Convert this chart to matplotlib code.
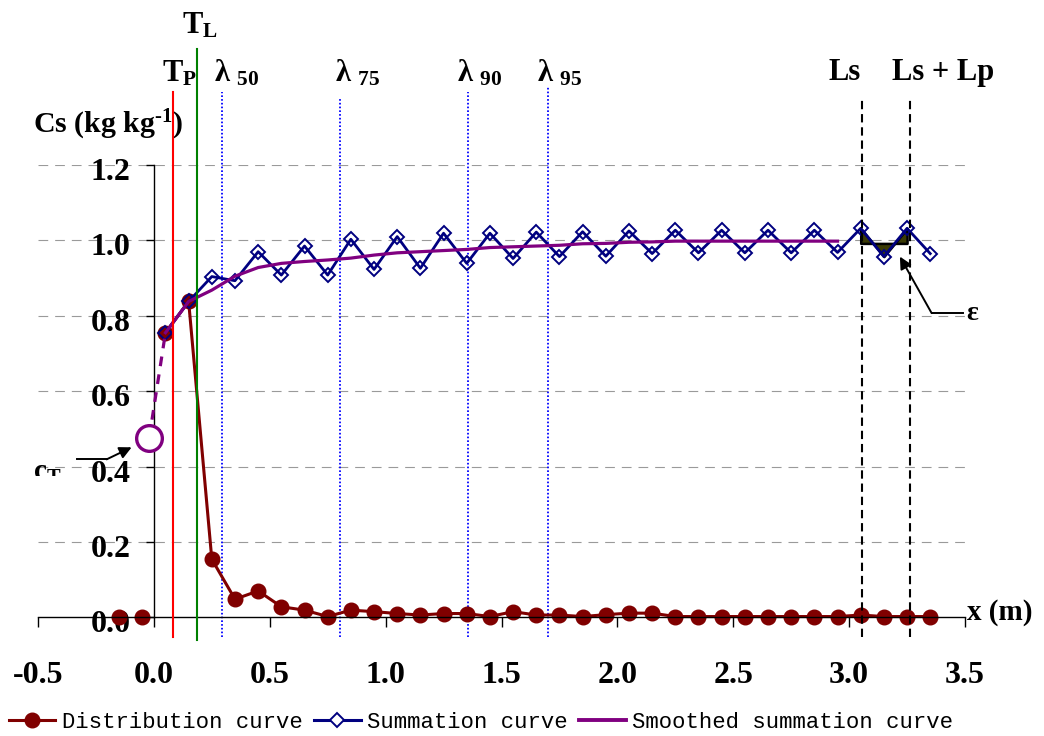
import numpy as np
import matplotlib
matplotlib.use("Agg")
import matplotlib.pyplot as plt
from matplotlib.lines import Line2D
from matplotlib.transforms import Bbox, ScaledTranslation

plt.rcParams['lines.scale_dashes'] = False
plt.rcParams['mathtext.fontset'] = 'custom'
for k in ('rm', 'it', 'bf', 'sf'):
    plt.rcParams['mathtext.' + k] = 'Liberation Serif:bold'
plt.rcParams['mathtext.default'] = 'rm'

# ---------------- data ----------------
dist_x = [-0.15, -0.05, 0.05, 0.15, 0.25, 0.35, 0.45, 0.55, 0.65, 0.75, 0.85, 0.95,
          1.05, 1.15, 1.25, 1.35, 1.45, 1.55, 1.65, 1.75, 1.85, 1.95, 2.05, 2.15,
          2.25, 2.35, 2.45, 2.55, 2.65, 2.75, 2.85, 2.95, 3.05, 3.15, 3.25, 3.35]
dist_y = [0.0, 0.0, 0.755, 0.838, 0.154, 0.048, 0.070, 0.028, 0.019, 0.002, 0.019, 0.015,
          0.010, 0.006, 0.010, 0.010, 0.002, 0.015, 0.006, 0.006, 0.002, 0.007, 0.011, 0.011,
          0.002, 0.002, 0.002, 0.002, 0.002, 0.002, 0.002, 0.002, 0.006, 0.002, 0.002, 0.002]

summ_x = [0.05, 0.15, 0.25, 0.35, 0.45, 0.55, 0.65, 0.75, 0.85, 0.95,
          1.05, 1.15, 1.25, 1.35, 1.45, 1.55, 1.65, 1.75, 1.85, 1.95,
          2.05, 2.15, 2.25, 2.35, 2.45, 2.55, 2.65, 2.75, 2.85, 2.95,
          3.05, 3.15, 3.25, 3.35]
summ_y = [0.755, 0.838, 0.904, 0.893, 0.970, 0.908, 0.985, 0.908, 1.003, 0.923,
          1.010, 0.926, 1.019, 0.939, 1.019, 0.952, 1.022, 0.957, 1.023, 0.958,
          1.025, 0.965, 1.027, 0.967, 1.027, 0.967, 1.027, 0.967, 1.027, 0.968,
          1.032, 0.957, 1.032, 0.965]

smooth_x = [0.05, 0.15, 0.25, 0.35, 0.45, 0.55, 0.65, 0.75, 0.85, 0.95,
            1.05, 1.15, 1.25, 1.35, 1.45, 1.55, 1.65, 1.75, 1.85, 1.95,
            2.05, 2.15, 2.25, 2.35, 2.45, 2.55, 2.65, 2.75, 2.85, 2.95]
smooth_y = [0.755, 0.838, 0.868, 0.905, 0.928, 0.939, 0.944, 0.948, 0.953, 0.961,
            0.967, 0.970, 0.973, 0.976, 0.981, 0.983, 0.985, 0.987, 0.991, 0.992,
            0.995, 0.996, 0.998, 0.998, 0.998, 0.998, 0.998, 0.998, 0.998, 0.998]

cT_x, cT_y = -0.02, 0.477          # intercept c_T
TP, TL = 0.081, 0.185              # T_P, T_L positions
lam_x = [0.292, 0.803, 1.356, 1.700]
lam_labels = ['50', '75', '90', '95']
Ls, LsLp = 3.055, 3.264
eps_level = 0.992

xticks = [-0.5, 0.0, 0.5, 1.0, 1.5, 2.0, 2.5, 3.0, 3.5]
yticks = [0.0, 0.2, 0.4, 0.6, 0.8, 1.0, 1.2]
legend_labels = ['Distribution curve', 'Summation curve', 'Smoothed summation curve']

# ---------------- figure ----------------
W, H = 1044, 736
fig = plt.figure(figsize=(W / 100, H / 100), dpi=100)
x0, x1, ytop, ybot = 38, 965, 165, 617.3
ax = fig.add_axes([x0 / W, (H - ybot) / H, (x1 - x0) / W, (ybot - ytop) / H])
ax.set_xlim(-0.5, 3.5)
ax.set_ylim(0, 1.2)

serif = 'Liberation Serif'
for s in ('top', 'right'):
    ax.spines[s].set_visible(False)
ax.spines['left'].set_position(('data', 0))
ax.spines['left'].set_linewidth(1.0)
ax.spines['bottom'].set_linewidth(1.0)

ax.set_xticks(xticks)
ax.set_xticklabels(['%.1f' % v for v in xticks], fontsize=23, fontweight='bold', family=serif)
ax.set_yticks(yticks)
ax.set_yticklabels(['%.1f' % v for v in yticks], fontsize=23, fontweight='bold', family=serif)
ax.tick_params(axis='x', direction='out', length=7.5, width=1.0, pad=24)
ax.tick_params(axis='y', direction='out', length=5.8, width=1.0, pad=11)
for lab in ax.get_yticklabels():
    lab.set_transform(lab.get_transform() + ScaledTranslation(0, -4 / 100, fig.dpi_scale_trans))

ax.yaxis.grid(True, color='#9a9a9a', linestyle=(0, (7, 5)), linewidth=0.8)
ax.get_ygridlines()[0].set_visible(False)
ax.set_axisbelow(True)

# series
dx_arr = np.array(dist_x)
dy_arr = np.array(dist_y)
joined = dx_arr > 0
ax.plot(dx_arr[joined], dy_arr[joined], color='#800000', lw=2.2, marker='o', ms=10.5,
        clip_on=False, zorder=2.2)
ax.plot(dx_arr[~joined], dy_arr[~joined], color='#800000', ls='none', marker='o', ms=10.5,
        clip_on=False, zorder=2.2)
ax.plot(summ_x, summ_y, color='#000080', lw=2.0, marker='D', ms=7, mfc='none',
        mec='#000080', mew=1.4, clip_on=False, zorder=3)
ax.plot(smooth_x, smooth_y, color='#800080', lw=2.3, clip_on=False, zorder=4)
ax.plot([cT_x, smooth_x[0]], [cT_y, smooth_y[0]], color='#800080', lw=2.3,
        linestyle=(0, (7, 6)), clip_on=False, zorder=3.9)
ax.plot([cT_x], [cT_y], marker='o', ms=18.5, mfc='white', mec='#800080', mew=2.4,
        clip_on=False, zorder=4.5)

# epsilon area
sx = np.array(summ_x)
sy = np.array(summ_y)
m = (sx >= Ls - 0.01) & (sx <= LsLp + 0.01)
ax.fill_between(sx[m], sy[m], eps_level, facecolor='#3a3a05', edgecolor='black',
                linewidth=1.8, zorder=2.6)

# vertical reference lines
ax.plot([TP, TP], [-0.052, 1.394], color='red', lw=1.5, clip_on=False, zorder=5)
ax.plot([TL, TL], [-0.060, 1.508], color='green', lw=1.5, clip_on=False, zorder=5)
lam_tops = [1.394, 1.380, 1.394, 1.41]
for xv, tp in zip(lam_x, lam_tops):
    ax.plot([xv, xv], [-0.052, tp], color='blue', lw=1.3, linestyle=(0, (1.2, 1.5)),
            clip_on=False, zorder=1.8)
for xv in (Ls, LsLp):
    ax.plot([xv, xv], [-0.052, 1.373], color='black', lw=1.5, linestyle=(0, (6, 3.5)),
            clip_on=False, zorder=5)


def top_label(xd, dx, base_y, s, size=22):
    ax.annotate(s, xy=(xd, H - base_y), xycoords=('data', 'figure pixels'),
                xytext=(dx, 0), textcoords='offset pixels', ha='left', va='baseline',
                fontsize=size, fontweight='bold', family=serif, annotation_clip=False)


top_label(TP, -10.3, 82, r'T$_{P}$')
top_label(TL, -15, 33, r'T$_{L}$')
lam_dx = [-7.6, -5, -11, -11]
for xv, lbl, d1 in zip(lam_x, lam_labels, lam_dx):
    top_label(xv, d1, 82, 'λ $_{%s}$' % lbl)
top_label(Ls, -33, 80, 'Ls')
top_label(LsLp, -18, 80, 'Ls + Lp')

# axis titles
fig.text(33 / W, (H - 133) / H, r'Cs (kg kg$^{\text{-}1}$)', fontsize=21.5,
         fontweight='bold', family=serif, ha='left', va='baseline')
fig.text(967 / W, (H - 620) / H, 'x (m)', fontsize=21, fontweight='bold',
         family=serif, ha='left', va='baseline')

# c_T annotation (clipped as in the original)
t1 = fig.text(33 / W, (H - 480) / H, r'c$_{T}$', fontsize=21, fontweight='bold',
              family=serif, ha='left', va='baseline')
t1.set_clip_on(True)
t1.set_clip_box(Bbox.from_extents(0, H - 475.5, 80, H - 440))
ax.plot([-0.333, -0.204], [0.419, 0.419], color='black', lw=1.4, clip_on=False, zorder=5)
ax.annotate('', xy=(-0.096, 0.451), xytext=(-0.204, 0.419),
            arrowprops=dict(arrowstyle='-|>', color='black', lw=1.4,
                            mutation_scale=18, shrinkA=0, shrinkB=0),
            annotation_clip=False, zorder=5)

# epsilon annotation
ax.plot([3.356, 3.493], [0.807, 0.807], color='black', lw=1.4, clip_on=False, zorder=5)
ax.annotate('', xy=(3.219, 0.957), xytext=(3.356, 0.807),
            arrowprops=dict(arrowstyle='-|>', color='black', lw=1.4,
                            mutation_scale=18, shrinkA=0, shrinkB=0),
            annotation_clip=False, zorder=5)
ax.text(3.505, 0.807, 'ε', fontsize=20, fontweight='bold', family=serif,
        ha='left', va='center', clip_on=False)

# legend
handles = [
    Line2D([], [], color='#800000', lw=2.2, marker='o', ms=10.5),
    Line2D([], [], color='#000080', lw=2.2, marker='D', ms=7, mfc='white',
           mec='#000080', mew=1.4),
    Line2D([], [], color='#800080', lw=2.8),
]
fig.legend(handles, legend_labels, loc='center', bbox_to_anchor=(481 / W, 14 / H),
           ncol=3, frameon=False, prop={'family': 'Liberation Mono', 'size': 16},
           handlelength=2.1, handletextpad=0.3, columnspacing=0.5, borderaxespad=0,
           borderpad=0)

fig.savefig('out.png', dpi=100)
